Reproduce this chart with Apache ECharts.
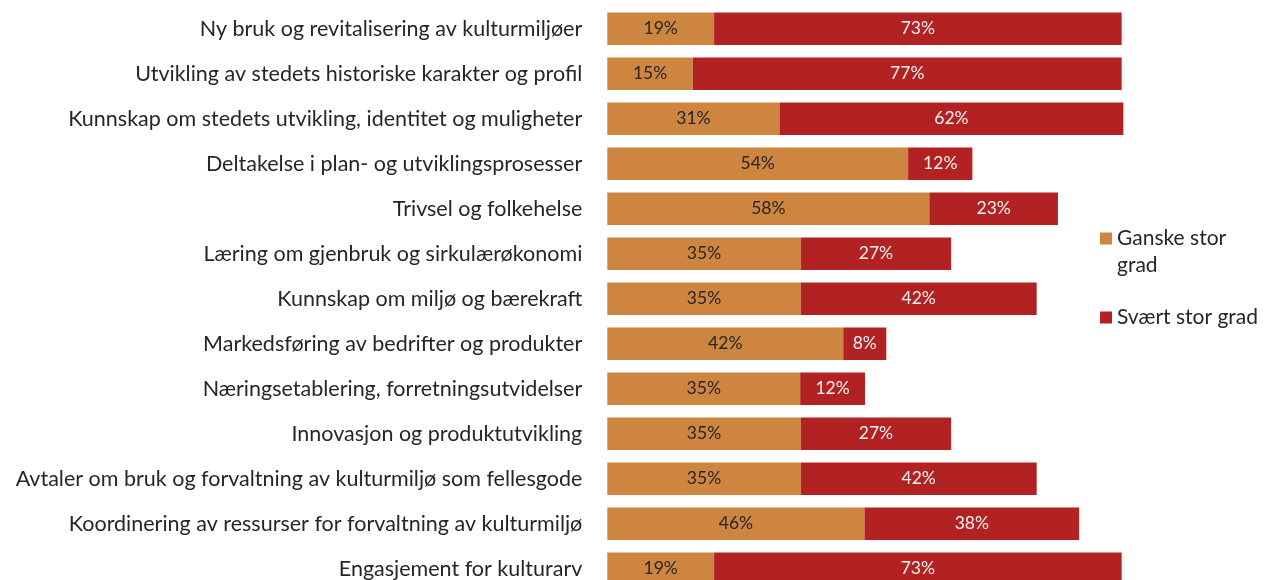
<!DOCTYPE html>
<html>
<head>
<meta charset="utf-8">
<style>
  html, body { margin: 0; padding: 0; background: #fff; }
  #chart { width: 1266px; height: 580px; }
</style>
<script src="https://cdn.jsdelivr.net/npm/echarts@6/dist/echarts.min.js"></script>
</head>
<body>
<div id="chart"></div>
<script>
// kategorier, fra toppen og ned
const categories = [
  'Ny bruk og revitalisering av kulturmiljøer',
  'Utvikling av stedets historiske karakter og profil',
  'Kunnskap om stedets utvikling, identitet og muligheter',
  'Deltakelse i plan- og utviklingsprosesser',
  'Trivsel og folkehelse',
  'Læring om gjenbruk og sirkulærøkonomi',
  'Kunnskap om miljø og bærekraft',
  'Markedsføring av bedrifter og produkter',
  'Næringsetablering, forretningsutvidelser',
  'Innovasjon og produktutvikling',
  'Avtaler om bruk og forvaltning av kulturmiljø som fellesgode',
  'Koordinering av ressurser for forvaltning av kulturmiljø',
  'Engasjement for kulturarv'
]

// andeler i prosent (avlest fra stolpene)
const ganskeStor = [19.1, 15.3, 30.8, 53.8, 57.6, 34.6, 34.6, 42.2, 34.5, 34.6, 34.6, 46.0, 19.1]
const svaertStor = [72.9, 76.7, 61.5, 11.5, 23.0, 26.9, 42.2, 7.7, 11.6, 26.9, 42.2, 38.4, 72.9]

const seriesNames = ['Ganske stor grad', 'Svært stor grad']

const FONT = 'Lato'
const chart = echarts.init(document.getElementById('chart'))

const pct = p => Math.round(p.value) + '%'
const legendText = { fontFamily: FONT, fontSize: 21, color: '#262626', lineHeight: 27 }

chart.setOption({
  animation: false,
  textStyle: { fontFamily: FONT },
  grid: { left: 607.3, top: 6.25, width: 559.1, height: 585, outerBoundsMode: 'none', containLabel: false },
  legend: [
    {
      // tom første linje så ikonet står på linje med «Ganske stor»
      data: [seriesNames[0]],
      orient: 'vertical',
      left: 1100,
      top: 198,
      padding: 0,
      icon: 'rect',
      itemWidth: 12,
      itemHeight: 12,
      selectedMode: false,
      formatter: () => ' \nGanske stor\ngrad',
      textStyle: legendText
    },
    {
      data: [seriesNames[1]],
      orient: 'vertical',
      left: 1100,
      top: 304,
      padding: 0,
      icon: 'rect',
      itemWidth: 12,
      itemHeight: 12,
      selectedMode: false,
      textStyle: legendText
    }
  ],
  xAxis: {
    type: 'value',
    min: 0,
    max: 100,
    show: false
  },
  yAxis: {
    type: 'category',
    data: categories,
    inverse: true,
    axisLine: { show: false },
    axisTick: { show: false },
    axisLabel: {
      margin: 25,
      fontFamily: FONT,
      fontSize: 21.5,
      color: '#262626'
    }
  },
  series: [
    {
      name: seriesNames[0],
      type: 'bar',
      stack: 'total',
      barWidth: 32.5,
      data: ganskeStor,
      itemStyle: { color: '#CD853F' },
      label: {
        show: true,
        position: 'inside',
        formatter: pct,
        fontFamily: FONT,
        fontSize: 17.5,
        color: '#262626'
      }
    },
    {
      name: seriesNames[1],
      type: 'bar',
      stack: 'total',
      barWidth: 32.5,
      data: svaertStor,
      itemStyle: { color: '#B22222' },
      label: {
        show: true,
        position: 'inside',
        formatter: pct,
        fontFamily: FONT,
        fontSize: 17.5,
        color: '#F2F2F2'
      }
    }
  ]
})
</script>
</body>
</html>
